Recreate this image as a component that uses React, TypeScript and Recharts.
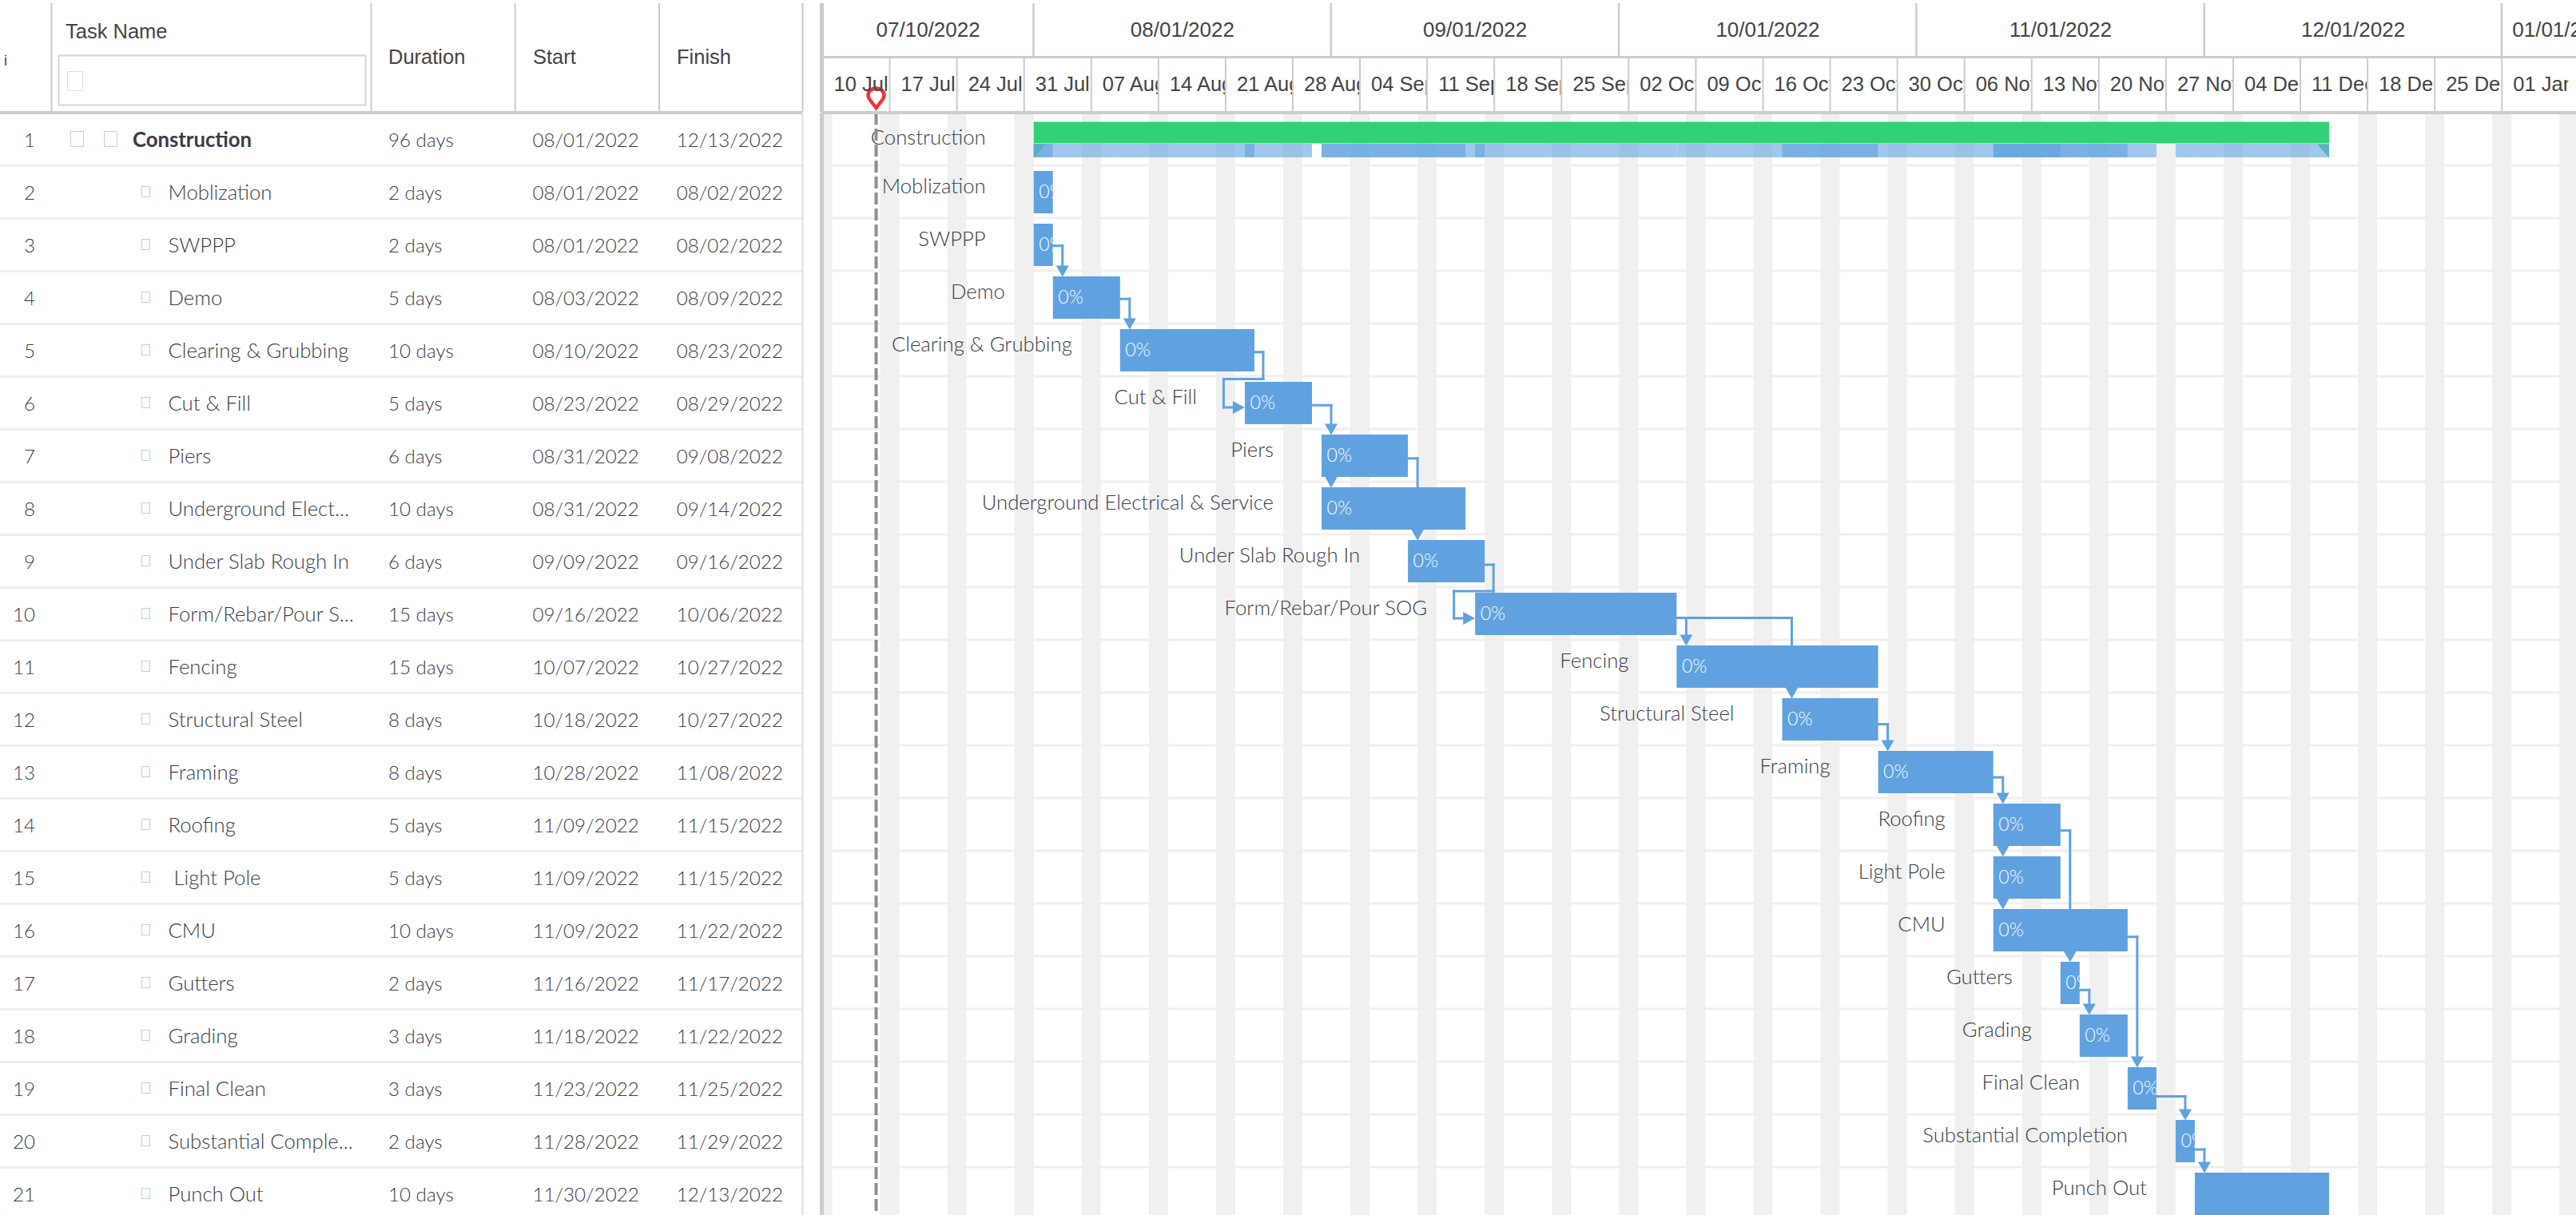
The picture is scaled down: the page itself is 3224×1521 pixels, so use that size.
import React from "react";
import { ComposedChart, Bar, XAxis, YAxis, ReferenceArea, ReferenceLine, ReferenceDot } from "recharts";

// ---------- data ----------
const taskNames = ["Construction","Moblization","SWPPP","Demo","Clearing & Grubbing","Cut & Fill","Piers","Underground Electrical & Service","Under Slab Rough In","Form/Rebar/Pour SOG","Fencing","Structural Steel","Framing","Roofing","Light Pole","CMU","Gutters","Grading","Final Clean","Substantial Completion","Punch Out"];
const tableNames = ["Construction","Moblization","SWPPP","Demo","Clearing & Grubbing","Cut & Fill","Piers","Underground Elect...","Under Slab Rough In","Form/Rebar/Pour S...","Fencing","Structural Steel","Framing","Roofing"," Light Pole","CMU","Gutters","Grading","Final Clean","Substantial Comple...","Punch Out"];
const durations = ["96 days","2 days","2 days","5 days","10 days","5 days","6 days","10 days","6 days","15 days","15 days","8 days","8 days","5 days","5 days","10 days","2 days","3 days","3 days","2 days","10 days"];
const startDates = ["08/01/2022","08/01/2022","08/01/2022","08/03/2022","08/10/2022","08/23/2022","08/31/2022","08/31/2022","09/09/2022","09/16/2022","10/07/2022","10/18/2022","10/28/2022","11/09/2022","11/09/2022","11/09/2022","11/16/2022","11/18/2022","11/23/2022","11/28/2022","11/30/2022"];
const finishDates = ["12/13/2022","08/02/2022","08/02/2022","08/09/2022","08/23/2022","08/29/2022","09/08/2022","09/14/2022","09/16/2022","10/06/2022","10/27/2022","10/27/2022","11/08/2022","11/15/2022","11/15/2022","11/22/2022","11/17/2022","11/22/2022","11/25/2022","11/29/2022","12/13/2022"];
const progress = ["","0%","0%","0%","0%","0%","0%","0%","0%","0%","0%","0%","0%","0%","0%","0%","0%","0%","0%","0%",""];
const weekLabels = ["10 Jul","17 Jul","24 Jul","31 Jul","07 Aug","14 Aug","21 Aug","28 Aug","04 Sep","11 Sep","18 Sep","25 Sep","02 Oct","09 Oct","16 Oct","23 Oct","30 Oct","06 Nov","13 Nov","20 Nov","27 Nov","04 Dec","11 Dec","18 Dec","25 Dec","01 Jan"];
const monthLabels = ["07/10/2022","08/01/2022","09/01/2022","10/01/2022","11/01/2022","12/01/2022","01/01/2023"];
const monthStarts = ["07/10/2022","08/01/2022","09/01/2022","10/01/2022","11/01/2022","12/01/2022","01/01/2023","01/14/2023"];
const todayDate = 5.58;
// predecessor row, successor row, route kind, row the line passes behind (1-based rows)
const links: [number, number, string, number?][] = [
  [3,4,"down"],[4,5,"down"],[5,6,"back"],[6,7,"down"],[7,8,"start"],[7,9,"down",8],[9,10,"back"],
  [10,11,"down"],[10,12,"down",11],[12,13,"down"],[13,14,"down"],[14,15,"start"],[15,16,"start"],
  [14,17,"down",16],[17,18,"down"],[16,19,"down"],[19,20,"down"],[20,21,"down"],
];

// ---------- layout ----------
const W = 3224, H = 1527, LEFT = 1029.5, ROW = 66, ROWS = 21;
const DAY_PX = 12.01;
const MAX_DAY = (W - LEFT) / DAY_PX;
const BLUE = "#60a2df", GREEN = "#33d176", LINE = "#cccccc", ROWLINE = "#efefef", TXT = "#383d48", HEADTXT = "#444444";
const BODY = "Lato, sans-serif", ARIAL = "'Liberation Sans', Arial, sans-serif";
const FS = 24.2, NAME_FS = 25.7;

const day0 = Date.UTC(2022, 6, 10);
const toDay = (s: string) => { const [m, d, y] = s.split("/").map(Number); return (Date.UTC(y, m - 1, d) - day0) / 86400000; };

const rows = taskNames.map((name, i) => ({
  name, idx: i, range: [toDay(startDates[i]), toDay(finishDates[i]) + 1], progress: progress[i],
}));
const weekTicks = weekLabels.map((_, i) => i * 7);
const monthTicks = monthStarts.slice(0, -1).map(toDay);
const weekendIdx = Array.from({ length: 27 }, (_, i) => i);

const px = (p: number) => p / DAY_PX;
// In a vertical layout the second y axis spans the row indexes 0..20, so a row position r becomes r*20/21.
const Y = (r: number) => (r * (ROWS - 1)) / ROWS;
const rowPx = (p: number) => p / ROW;
const barTop = (r: number) => r - 1 + rowPx(6.5);
const barBot = (r: number) => r - 1 + rowPx(59.5);
const exitY = (r: number) => barTop(r) + rowPx(26.5 + 0.55 * r);
const startOf = (r: number) => rows[r - 1].range[0];
const endOf = (r: number) => rows[r - 1].range[1];

type P = { x: number; y: number };
type Route = { parts: P[][]; tip: P; dir: "down" | "right" };
const routes: Route[] = links.map(([a, b, kind, via]) => {
  if (kind === "start") {
    const x = startOf(b) + px(12);
    return { parts: [[{ x, y: barBot(a) }, { x, y: barTop(b) - rowPx(6) }]], tip: { x, y: barTop(b) + rowPx(1) }, dir: "down" };
  }
  if (kind === "back") {
    const x1 = endOf(a) + px(11), x2 = startOf(b) - px(26.5);
    const y0 = exitY(a), y1 = barTop(b) - rowPx(b === 6 ? 3 : 1.5), y2 = barTop(b) + rowPx(32.5);
    return {
      parts: [[{ x: endOf(a), y: y0 }, { x: x1, y: y0 }, { x: x1, y: y1 }, { x: x2, y: y1 }, { x: x2, y: y2 }, { x: startOf(b) - px(10), y: y2 }]],
      tip: { x: startOf(b), y: y2 }, dir: "right",
    };
  }
  const x = startOf(b) + px(12);
  const y0 = exitY(a);
  const parts: P[][] = [];
  if (via) {
    parts.push([{ x: endOf(a), y: y0 }, { x, y: y0 }, { x, y: barTop(via) }]);
    parts.push([{ x, y: barBot(via) }, { x, y: barTop(b) - rowPx(6) }]);
  } else {
    parts.push([{ x: endOf(a), y: y0 }, { x, y: y0 }, { x, y: barTop(b) - rowPx(6) }]);
  }
  return { parts, tip: { x, y: barTop(b) + rowPx(1) }, dir: "down" };
});
const rollups = rows.slice(1);

// ---------- drawing helpers ----------
const Rect = (p: any) => <rect {...p} />;

function TableHeader() {
  const cols = [64.5, 464.5, 644.7, 825];
  return (
    <g>
      {cols.map((x) => <Rect key={x} x={x - 1} y={4} width={2} height={136} fill={LINE} />)}
      <Rect x={1003.5} y={4} width={2} height={136} fill={LINE} />
      <Rect x={1026} y={4} width={5} height={136} fill={LINE} />
      <Rect x={0} y={139} width={1004} height={4} fill={LINE} />
      <Rect x={1028} y={139} width={W - 1028} height={4} fill={LINE} />
      <Rect x={1031} y={70} width={W - 1031} height={3} fill={LINE} />
      <text x={5} y={82} fontFamily={ARIAL} fontSize={18} fill={HEADTXT}>i</text>
      <text x={82} y={48} fontFamily={ARIAL} fontSize={25.5} fill={HEADTXT}>Task Name</text>
      <rect x={73.5} y={69.5} width={384} height={62} fill="#fff" stroke="#d4d4d4" strokeWidth={2} />
      <rect x={84.5} y={89.5} width={19} height={24} fill="#fff" stroke="#e0e0e0" strokeWidth={1} />
      <text x={486} y={80} fontFamily={ARIAL} fontSize={25.5} fill={HEADTXT}>Duration</text>
      <text x={667} y={80} fontFamily={ARIAL} fontSize={25.5} fill={HEADTXT}>Start</text>
      <text x={847} y={80} fontFamily={ARIAL} fontSize={25.5} fill={HEADTXT}>Finish</text>
    </g>
  );
}

function MonthTick({ x, index }: any) {
  const span = toDay(monthStarts[index + 1]) - toDay(monthStarts[index]);
  return (
    <g>
      {index === 0 ? <TableHeader /> : <Rect x={x - 1.5} y={4} width={2.5} height={66} fill={LINE} />}
      <text x={x + (span * DAY_PX) / 2} y={46} textAnchor="middle" fontFamily={ARIAL} fontSize={26} fill={HEADTXT}>{monthLabels[index]}</text>
    </g>
  );
}

function WeekTick({ x, index }: any) {
  return (
    <g>
      {index > 0 && <Rect x={x - 1} y={73} width={2} height={66} fill={LINE} />}
      <svg x={x} y={73} width={DAY_PX * 7 - 1} height={66}>
        <text x={14} y={41} fontFamily={ARIAL} fontSize={25.5} fill={HEADTXT}>{weekLabels[index]}</text>
      </svg>
    </g>
  );
}

function RowTick({ y, index }: any) {
  const base = y + 9.5;
  const summary = index === 0;
  const style = { fontFamily: BODY, fontSize: FS, fill: TXT, fontWeight: 300 };
  return (
    <g>
      <Rect x={0} y={y + 32} width={1004} height={3} fill={ROWLINE} />
      <Rect x={1003.5} y={y - 33} width={2} height={ROW} fill="#dddddd" />
      <Rect x={1026} y={y - 33} width={5} height={ROW} fill={LINE} />
      <text x={44} y={base} textAnchor="end" {...style}>{index + 1}</text>
      {summary ? (
        <g>
          <rect x={88.5} y={164.5} width={16} height={19} fill="none" stroke="#b5d3f0" />
          <rect x={130.5} y={164.5} width={16} height={19} fill="none" stroke="#b5d3f0" />
        </g>
      ) : (
        <rect x={177.5} y={Math.round(y) - 6.5} width={10} height={13} fill="none" stroke="#b5d3f0" />
      )}
      <text x={summary ? 166 : 210.5} y={base} xmlSpace="preserve" {...style} fontSize={NAME_FS} fontWeight={summary ? 700 : 300}>{tableNames[index]}</text>
      <text x={486} y={base} {...style}>{durations[index]}</text>
      <text x={666.5} y={base} {...style}>{startDates[index]}</text>
      <text x={846.7} y={base} {...style}>{finishDates[index]}</text>
    </g>
  );
}

function TaskShape({ x, y, width, height, payload, index }: any) {
  const i = payload?.idx ?? index;
  const nameStyle = { fontFamily: BODY, fontSize: NAME_FS, fontWeight: 300, fill: TXT, textAnchor: "end" as const };
  if (i === 0) {
    const gy = y + 4.5;
    return (
      <g>
        <rect x={x} y={gy} width={width} height={27} fill={GREEN} />
        <polygon points={`${x},${gy + 28} ${x + 15},${gy + 28} ${x},${gy + 45}`} fill="#58aec6" />
        <polygon points={`${x + width},${gy + 28} ${x + width - 15},${gy + 28} ${x + width},${gy + 45}`} fill="#58b4bc" />
        <text x={x - 60} y={y + 32.5} {...nameStyle}>{payload.name}</text>
      </g>
    );
  }
  return (
    <g>
      <rect x={x} y={y} width={width} height={height} fill={BLUE} />
      <text x={x + 6.5} y={y + 34} fontFamily={BODY} fontSize={FS - 1} fontWeight={300} fill="#f6fafe">{payload.progress}</text>
      <text x={x - 60} y={y + 28} {...nameStyle}>{payload.name}</text>
    </g>
  );
}

const ArrowDown = ({ cx, cy }: any) => <polygon points={`${cx - 8},${cy - 14} ${cx + 8},${cy - 14} ${cx},${cy}`} fill={BLUE} />;
const ArrowRight = ({ cx, cy }: any) => <polygon points={`${cx - 15},${cy - 8} ${cx - 15},${cy + 8} ${cx},${cy}`} fill={BLUE} />;
const Pin = ({ cx, cy }: any) => (
  <path d={`M ${cx} ${cy} C ${cx - 4} ${cy - 6} ${cx - 10} ${cy - 10} ${cx - 10} ${cy - 16} A 10 8.5 0 1 1 ${cx + 10} ${cy - 16} C ${cx + 10} ${cy - 10} ${cx + 4} ${cy - 6} ${cx} ${cy} Z`} fill="#ffffff" stroke="#f5303c" strokeWidth={4.5} />
);

const ax = { xAxisId: "week", yAxisId: "num", ifOverflow: "visible" as const };

export default function App() {
  return (
    <div style={{ position: "absolute", left: 0, top: 0, width: W, height: 1521, overflow: "hidden", background: "#fff" }}>
      <ComposedChart width={W} height={H} data={rows} layout="vertical" margin={{ top: 0, right: 0, bottom: 0, left: 0 }} barCategoryGap={0}>
        <XAxis xAxisId="month" type="number" orientation="top" domain={[0, MAX_DAY]} allowDataOverflow ticks={monthTicks} interval={0} height={71} axisLine={false} tickLine={false} tick={(p: any) => <MonthTick {...p} />} />
        <XAxis xAxisId="week" type="number" orientation="top" domain={[0, MAX_DAY]} allowDataOverflow ticks={weekTicks} interval={0} height={70} axisLine={false} tickLine={false} tick={(p: any) => <WeekTick {...p} />} />
        <YAxis yAxisId="cat" type="category" dataKey="name" width={LEFT} interval={0} axisLine={false} tickLine={false} tick={(p: any) => <RowTick {...p} />} />
        <YAxis yAxisId="num" type="number" domain={[0, ROWS]} allowDataOverflow hide />

        {weekendIdx.map((i) => (
          <ReferenceArea key={`w${i}`} {...ax} x1={Math.max(0, i * 7 - 1)} x2={Math.min(MAX_DAY, i * 7 + 1)} y1={Y(rowPx(2))} y2={Y(ROWS)} fill="#f0f0f0" fillOpacity={1} stroke="none" />
        ))}
        {rows.slice(1).map((_, i) => (
          <ReferenceLine key={`r${i}`} {...ax} y={Y(i + 1)} stroke={ROWLINE} strokeWidth={3} />
        ))}
        {rollups.map((t) => (
          <ReferenceArea key={`u${t.idx}`} {...ax} x1={t.range[0]} x2={t.range[1]} y1={Y(rowPx(39))} y2={Y(rowPx(56))} fill={BLUE} fillOpacity={0.59} stroke="none" />
        ))}
        <ReferenceLine {...ax} x={todayDate} stroke="#8f8f8f" strokeWidth={4} strokeDasharray="15 5" />

        {routes.flatMap((r, ri) =>
          r.parts.flatMap((part, pi) =>
            part.slice(1).map((pt, si) => (
              <ReferenceLine key={`l${ri}-${pi}-${si}`} {...ax} segment={[{ x: part[si].x, y: Y(part[si].y) }, { x: pt.x, y: Y(pt.y) }]} stroke={BLUE} strokeWidth={3} strokeLinecap="square" />
            ))
          )
        )}
        {routes.map((r, ri) => (
          <ReferenceDot key={`a${ri}`} {...ax} x={r.tip.x} y={Y(r.tip.y)} r={1} shape={r.dir === "down" ? ArrowDown : ArrowRight} />
        ))}

        <Bar xAxisId="week" yAxisId="cat" dataKey="range" barSize={53} fill={BLUE} isAnimationActive={false} shape={(p: any) => <TaskShape {...p} />} />

        <ReferenceDot {...ax} x={todayDate} y={Y(-rowPx(6))} r={1} shape={Pin} />
      </ComposedChart>
    </div>
  );
}
